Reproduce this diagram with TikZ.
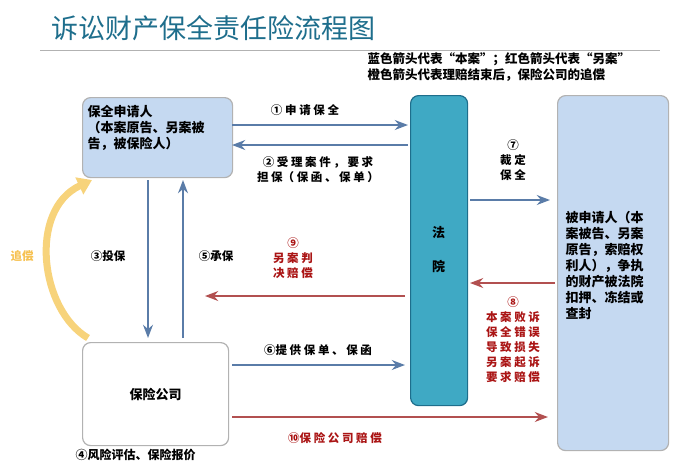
\documentclass[tikz,border=0pt]{standalone}
\usepackage{fontspec}
\setmainfont{Noto Sans CJK SC}
\usetikzlibrary{arrows.meta,positioning}
\definecolor{titleteal}{RGB}{30,110,140}
\definecolor{boxblue}{RGB}{197,217,241}
\definecolor{courtteal}{RGB}{63,169,196}
\definecolor{arrowblue}{RGB}{90,124,168}
\definecolor{arrowred}{RGB}{178,80,80}
\definecolor{textred}{RGB}{170,20,20}
\definecolor{chaseorange}{RGB}{245,200,90}
\begin{document}
\begin{tikzpicture}[x=1pt,y=-1pt,
    party/.style={rectangle, draw=gray!60, fill=boxblue, rounded corners=8pt, line width=1.2pt, anchor=north west, inner sep=6pt},
    boxtext/.style={font=\fontsize{13}{16}\selectfont\bfseries, align=left},
    bluearrow/.style={-{Stealth[scale=1.1]}, line width=2pt, arrowblue},
    redarrow/.style={-{Stealth[scale=1.1]}, line width=2pt, arrowred},
    lbl/.style={font=\fontsize{11.5}{15}\selectfont\bfseries, align=center},
    redlbl/.style={lbl, text=textred}
]
\useasboundingbox (0,0) rectangle (690,467);

% Title
\node[anchor=west, font=\fontsize{27}{30}\selectfont, text=titleteal] (title) at (48,28) {诉讼财产保全责任险流程图};
\draw[gray!60, line width=1pt] (40,50) -- (660,50);
\node[anchor=west, font=\fontsize{12.5}{16}\selectfont\bfseries, align=left] (legend) at (364,67) {蓝色箭头代表“本案”；红色箭头代表“另案”\\橙色箭头代表理赔结束后，保险公司的追偿};

% Boxes
\node[party, minimum width=150pt, minimum height=80pt] (applicant) at (82,97) {};
\node[boxtext, anchor=north west] (applicanttxt) at (84,102) {保全申请人\\（本案原告、另案被\\告，被保险人）};
\node[party, fill=white, minimum width=146pt, minimum height=103pt] (insurer) at (82,342) {};
\node[boxtext] (insurertxt) at (insurer.center) {保险公司};
\node[rectangle, draw=titleteal, fill=courtteal, rounded corners=8pt, line width=1.2pt, anchor=north west, minimum width=57pt, minimum height=310pt] (court) at (410,95) {};
\node[boxtext, align=center] (courttxt) at (438.5,250) {法\\[18pt]院};
\node[party, minimum width=111pt, minimum height=355pt] (respondent) at (557,95) {};
\node[boxtext, anchor=north west] (respondenttxt) at (562,208) {被申请人（本\\案被告、另案\\原告，索赔权\\利人），争执\\的财产被法院\\扣押、冻结或\\查封};

% Arrows
\coordinate (a1s) at (232,125); \coordinate (a1e) at (408,125);
\draw[bluearrow] (a1s) -- (a1e);
\node[lbl] (l1) at (305,110) {① 申 请 保 全};
\coordinate (a2s) at (408,145); \coordinate (a2e) at (232,145);
\draw[bluearrow] (a2s) -- (a2e);
\node[lbl] (l2) at (318,170) {② 受 理 案 件 ， 要 求\\担 保（ 保 函 、 保 单 ）};
\coordinate (a7s) at (470,200); \coordinate (a7e) at (550,200);
\draw[bluearrow] (a7s) -- (a7e);
\node[lbl] (l7) at (513,160) {⑦\\裁 定\\保 全};
\coordinate (a8s) at (555,283); \coordinate (a8e) at (470,283);
\draw[redarrow] (a8s) -- (a8e);
\node[redlbl] (l8) at (513,340) {⑧\\本 案 败 诉\\保 全 错 误\\导 致 损 失\\另 案 起 诉\\要 求 赔 偿};
\coordinate (a9s) at (405,296); \coordinate (a9e) at (205,296);
\draw[redarrow] (a9s) -- (a9e);
\node[redlbl] (l9) at (293,258) {⑨\\另 案 判\\决 赔 偿};
\coordinate (a6s) at (232,365); \coordinate (a6e) at (405,365);
\draw[bluearrow] (a6s) -- (a6e);
\node[lbl] (l6) at (318,350) {⑥提 供 保 单 、 保 函};
\coordinate (a10s) at (232,417); \coordinate (a10e) at (548,417);
\draw[redarrow] (a10s) -- (a10e);
\node[redlbl] (l10) at (335,438) {⑩保 险 公 司 赔 偿};

% vertical arrows
\draw[bluearrow] (148,180) -- (148,338);
\node[lbl] (l3) at (108,256) {③投保};
\draw[bluearrow] (183,338) -- (183,180);
\node[lbl] (l5) at (216,256) {⑤承保};

% recourse
\draw[-{Triangle[length=14pt,width=18pt]}, line width=7pt, chaseorange!80] (88,338) .. controls (40,310) and (28,210) .. (92,180);
\node[font=\fontsize{11.5}{14}\selectfont\bfseries, text=chaseorange!90!orange] (lchase) at (22,256) {追偿};
\node[font=\fontsize{12}{14}\selectfont\bfseries, anchor=west] (l4) at (72,455) {④风险评估、保险报价};
\end{tikzpicture}
\end{document}
